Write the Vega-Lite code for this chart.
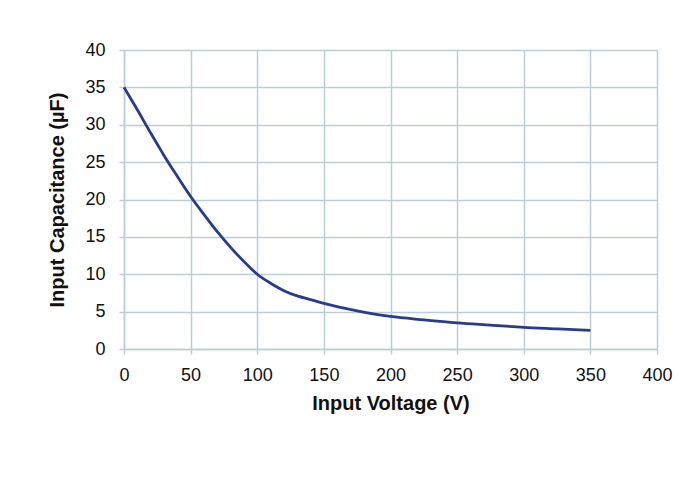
{
  "$schema": "https://vega.github.io/schema/vega-lite/v6.json",
  "width": 533,
  "height": 299,
  "autosize": {"type": "none"},
  "padding": {"left": 124, "top": 50, "right": 38, "bottom": 131},
  "background": "white",
  "config": {
    "view": {"stroke": null},
    "font": "Liberation Sans",
    "axis": {
      "gridColor": "#BCCDD6",
      "gridWidth": 1.5,
      "gridOpacity": 1,
      "domainColor": "#BCCDD6",
      "domainWidth": 1.5,
      "tickColor": "#BCCDD6",
      "tickWidth": 1.5,
      "tickSize": 5,
      "labelColor": "#111111",
      "labelFontSize": 18,
      "labelFlush": false,
      "titleFontSize": 20,
      "titleFontWeight": "bold",
      "titleColor": "#111111"
    }
  },
  "data": {
    "values": [
      {"v": 0, "c": 35.0},
      {"v": 10, "c": 32.0},
      {"v": 20, "c": 28.9},
      {"v": 25, "c": 27.4},
      {"v": 30, "c": 25.9},
      {"v": 40, "c": 23.1},
      {"v": 50, "c": 20.4},
      {"v": 60, "c": 18.0},
      {"v": 70, "c": 15.7},
      {"v": 80, "c": 13.6},
      {"v": 90, "c": 11.7},
      {"v": 100, "c": 10.0},
      {"v": 110, "c": 8.8},
      {"v": 120, "c": 7.8},
      {"v": 130, "c": 7.1},
      {"v": 140, "c": 6.6},
      {"v": 150, "c": 6.1},
      {"v": 175, "c": 5.1},
      {"v": 200, "c": 4.35},
      {"v": 225, "c": 3.9},
      {"v": 250, "c": 3.5},
      {"v": 275, "c": 3.2},
      {"v": 300, "c": 2.9},
      {"v": 325, "c": 2.7},
      {"v": 350, "c": 2.5}
    ]
  },
  "mark": {"type": "line", "color": "#293B8F", "strokeWidth": 2.8, "interpolate": "monotone"},
  "encoding": {
    "x": {
      "field": "v",
      "type": "quantitative",
      "scale": {"domain": [0, 400], "nice": false},
      "axis": {
        "values": [0, 50, 100, 150, 200, 250, 300, 350, 400],
        "title": "Input Voltage (V)",
        "labelPadding": 12,
        "titlePadding": 9
      }
    },
    "y": {
      "field": "c",
      "type": "quantitative",
      "scale": {"domain": [0, 40], "nice": false},
      "axis": {
        "values": [0, 5, 10, 15, 20, 25, 30, 35, 40],
        "title": "Input Capacitance (µF)",
        "labelPadding": 14,
        "titlePadding": 17
      }
    }
  }
}
